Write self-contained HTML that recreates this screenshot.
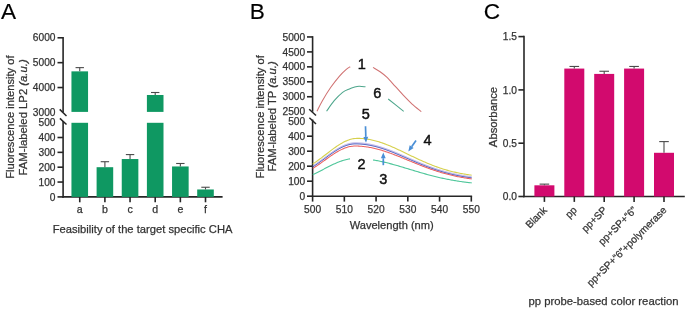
<!DOCTYPE html>
<html><head><meta charset="utf-8"><style>
html,body{margin:0;padding:0;background:#fff;width:685px;height:309px;overflow:hidden;}
svg{display:block;will-change:transform;}
text{font-family:"Liberation Sans",sans-serif;fill:#333;stroke:#333;stroke-width:0.25px;}
</style></head><body>
<svg width="685" height="309" viewBox="0 0 685 309">
<text x="1.00" y="18.70" font-size="22.6" text-anchor="start" style="fill:#000;stroke:#000;stroke-width:0.15">A</text>
<line x1="63.10" y1="36.99" x2="63.10" y2="112.20" stroke="#262626" stroke-width="1.6"/>
<line x1="63.10" y1="121.00" x2="63.10" y2="197.70" stroke="#262626" stroke-width="1.6"/>
<line x1="57.50" y1="37.79" x2="63.10" y2="37.79" stroke="#262626" stroke-width="1.6"/>
<text x="55.50" y="41.39" font-size="10.2" text-anchor="end" >6000</text>
<line x1="57.50" y1="62.66" x2="63.10" y2="62.66" stroke="#262626" stroke-width="1.6"/>
<text x="55.50" y="66.26" font-size="10.2" text-anchor="end" >5000</text>
<line x1="57.50" y1="87.53" x2="63.10" y2="87.53" stroke="#262626" stroke-width="1.6"/>
<text x="55.50" y="91.13" font-size="10.2" text-anchor="end" >4000</text>
<line x1="57.50" y1="137.50" x2="63.10" y2="137.50" stroke="#262626" stroke-width="1.6"/>
<text x="55.50" y="141.10" font-size="10.2" text-anchor="end" >400</text>
<line x1="57.50" y1="152.35" x2="63.10" y2="152.35" stroke="#262626" stroke-width="1.6"/>
<text x="55.50" y="155.95" font-size="10.2" text-anchor="end" >300</text>
<line x1="57.50" y1="167.20" x2="63.10" y2="167.20" stroke="#262626" stroke-width="1.6"/>
<text x="55.50" y="170.80" font-size="10.2" text-anchor="end" >200</text>
<line x1="57.50" y1="182.05" x2="63.10" y2="182.05" stroke="#262626" stroke-width="1.6"/>
<text x="55.50" y="185.65" font-size="10.2" text-anchor="end" >100</text>
<line x1="57.50" y1="196.90" x2="63.10" y2="196.90" stroke="#262626" stroke-width="1.6"/>
<text x="55.50" y="200.50" font-size="10.2" text-anchor="end" >0</text>
<text x="55.50" y="116.00" font-size="10.2" text-anchor="end" >3000</text>
<text x="55.50" y="126.25" font-size="10.2" text-anchor="end" >500</text>
<line x1="59.70" y1="109.40" x2="66.50" y2="116.00" stroke="#262626" stroke-width="1.5"/>
<line x1="59.90" y1="118.40" x2="66.50" y2="124.50" stroke="#262626" stroke-width="1.5"/>
<line x1="62.30" y1="196.90" x2="222.60" y2="196.90" stroke="#262626" stroke-width="1.6"/>
<line x1="79.75" y1="196.90" x2="79.75" y2="202.30" stroke="#262626" stroke-width="1.6"/>
<text x="79.75" y="213.20" font-size="10.6" text-anchor="middle" >a</text>
<rect x="71.45" y="122.80" width="16.60" height="74.10" fill="#0f9862"/>
<rect x="71.45" y="71.36" width="16.60" height="40.54" fill="#0f9862"/>
<line x1="79.75" y1="67.63" x2="79.75" y2="71.36" stroke="#4a4a4a" stroke-width="1.1"/>
<line x1="75.55" y1="67.63" x2="83.95" y2="67.63" stroke="#4a4a4a" stroke-width="1.1"/>
<line x1="104.90" y1="196.90" x2="104.90" y2="202.30" stroke="#262626" stroke-width="1.6"/>
<text x="104.90" y="213.20" font-size="10.6" text-anchor="middle" >b</text>
<rect x="96.60" y="167.20" width="16.60" height="29.70" fill="#0f9862"/>
<line x1="104.90" y1="161.71" x2="104.90" y2="167.20" stroke="#4a4a4a" stroke-width="1.1"/>
<line x1="100.70" y1="161.71" x2="109.10" y2="161.71" stroke="#4a4a4a" stroke-width="1.1"/>
<line x1="130.05" y1="196.90" x2="130.05" y2="202.30" stroke="#262626" stroke-width="1.6"/>
<text x="130.05" y="213.20" font-size="10.6" text-anchor="middle" >c</text>
<rect x="121.75" y="159.03" width="16.60" height="37.87" fill="#0f9862"/>
<line x1="130.05" y1="154.58" x2="130.05" y2="159.03" stroke="#4a4a4a" stroke-width="1.1"/>
<line x1="125.85" y1="154.58" x2="134.25" y2="154.58" stroke="#4a4a4a" stroke-width="1.1"/>
<line x1="155.20" y1="196.90" x2="155.20" y2="202.30" stroke="#262626" stroke-width="1.6"/>
<text x="155.20" y="213.20" font-size="10.6" text-anchor="middle" >d</text>
<rect x="146.90" y="122.80" width="16.60" height="74.10" fill="#0f9862"/>
<rect x="146.90" y="94.99" width="16.60" height="16.91" fill="#0f9862"/>
<line x1="155.20" y1="92.50" x2="155.20" y2="94.99" stroke="#4a4a4a" stroke-width="1.1"/>
<line x1="151.00" y1="92.50" x2="159.40" y2="92.50" stroke="#4a4a4a" stroke-width="1.1"/>
<line x1="180.35" y1="196.90" x2="180.35" y2="202.30" stroke="#262626" stroke-width="1.6"/>
<text x="180.35" y="213.20" font-size="10.6" text-anchor="middle" >e</text>
<rect x="172.05" y="166.46" width="16.60" height="30.44" fill="#0f9862"/>
<line x1="180.35" y1="163.49" x2="180.35" y2="166.46" stroke="#4a4a4a" stroke-width="1.1"/>
<line x1="176.15" y1="163.49" x2="184.55" y2="163.49" stroke="#4a4a4a" stroke-width="1.1"/>
<line x1="205.50" y1="196.90" x2="205.50" y2="202.30" stroke="#262626" stroke-width="1.6"/>
<text x="205.50" y="213.20" font-size="10.6" text-anchor="middle" >f</text>
<rect x="197.20" y="189.47" width="16.60" height="7.43" fill="#0f9862"/>
<line x1="205.50" y1="187.25" x2="205.50" y2="189.47" stroke="#4a4a4a" stroke-width="1.1"/>
<line x1="201.30" y1="187.25" x2="209.70" y2="187.25" stroke="#4a4a4a" stroke-width="1.1"/>
<text x="142.60" y="233.40" font-size="11.2" text-anchor="middle" >Feasibility of the target specific CHA</text>
<g transform="translate(14.2,117.1) rotate(-90)"><text x="0" y="0" font-size="11.15" text-anchor="middle">Fluorescence intensity of</text></g>
<g transform="translate(26.8,117.4) rotate(-90)"><text x="0" y="0" font-size="11.3" text-anchor="middle">FAM-labeled LP2 <tspan font-style="italic">(a.u.)</tspan></text></g>
<text x="249.70" y="18.80" font-size="22.6" text-anchor="start" style="fill:#000;stroke:#000;stroke-width:0.15">B</text>
<line x1="312.60" y1="36.15" x2="312.60" y2="111.70" stroke="#262626" stroke-width="1.6"/>
<line x1="312.60" y1="119.50" x2="312.60" y2="197.00" stroke="#262626" stroke-width="1.6"/>
<line x1="307.00" y1="36.95" x2="312.60" y2="36.95" stroke="#262626" stroke-width="1.6"/>
<text x="305.20" y="40.55" font-size="10.2" text-anchor="end" >5000</text>
<line x1="307.00" y1="51.90" x2="312.60" y2="51.90" stroke="#262626" stroke-width="1.6"/>
<text x="305.20" y="55.50" font-size="10.2" text-anchor="end" >4500</text>
<line x1="307.00" y1="66.85" x2="312.60" y2="66.85" stroke="#262626" stroke-width="1.6"/>
<text x="305.20" y="70.45" font-size="10.2" text-anchor="end" >4000</text>
<line x1="307.00" y1="81.80" x2="312.60" y2="81.80" stroke="#262626" stroke-width="1.6"/>
<text x="305.20" y="85.40" font-size="10.2" text-anchor="end" >3500</text>
<line x1="307.00" y1="96.75" x2="312.60" y2="96.75" stroke="#262626" stroke-width="1.6"/>
<text x="305.20" y="100.35" font-size="10.2" text-anchor="end" >3000</text>
<text x="305.20" y="115.30" font-size="10.2" text-anchor="end" >2500</text>
<line x1="307.00" y1="136.20" x2="312.60" y2="136.20" stroke="#262626" stroke-width="1.6"/>
<text x="305.20" y="139.80" font-size="10.2" text-anchor="end" >400</text>
<line x1="307.00" y1="151.20" x2="312.60" y2="151.20" stroke="#262626" stroke-width="1.6"/>
<text x="305.20" y="154.80" font-size="10.2" text-anchor="end" >300</text>
<line x1="307.00" y1="166.20" x2="312.60" y2="166.20" stroke="#262626" stroke-width="1.6"/>
<text x="305.20" y="169.80" font-size="10.2" text-anchor="end" >200</text>
<line x1="307.00" y1="181.20" x2="312.60" y2="181.20" stroke="#262626" stroke-width="1.6"/>
<text x="305.20" y="184.80" font-size="10.2" text-anchor="end" >100</text>
<line x1="307.00" y1="196.20" x2="312.60" y2="196.20" stroke="#262626" stroke-width="1.6"/>
<text x="305.20" y="199.80" font-size="10.2" text-anchor="end" >0</text>
<text x="305.20" y="124.80" font-size="10.2" text-anchor="end" >500</text>
<line x1="309.20" y1="109.20" x2="316.00" y2="115.50" stroke="#262626" stroke-width="1.5"/>
<line x1="309.40" y1="117.70" x2="316.00" y2="124.00" stroke="#262626" stroke-width="1.5"/>
<line x1="311.80" y1="196.20" x2="472.10" y2="196.20" stroke="#262626" stroke-width="1.6"/>
<line x1="312.60" y1="196.20" x2="312.60" y2="201.60" stroke="#262626" stroke-width="1.6"/>
<text x="312.60" y="212.90" font-size="10.2" text-anchor="middle" >500</text>
<line x1="344.34" y1="196.20" x2="344.34" y2="201.60" stroke="#262626" stroke-width="1.6"/>
<text x="344.34" y="212.90" font-size="10.2" text-anchor="middle" >510</text>
<line x1="376.08" y1="196.20" x2="376.08" y2="201.60" stroke="#262626" stroke-width="1.6"/>
<text x="376.08" y="212.90" font-size="10.2" text-anchor="middle" >520</text>
<line x1="407.82" y1="196.20" x2="407.82" y2="201.60" stroke="#262626" stroke-width="1.6"/>
<text x="407.82" y="212.90" font-size="10.2" text-anchor="middle" >530</text>
<line x1="439.56" y1="196.20" x2="439.56" y2="201.60" stroke="#262626" stroke-width="1.6"/>
<text x="439.56" y="212.90" font-size="10.2" text-anchor="middle" >540</text>
<line x1="471.30" y1="196.20" x2="471.30" y2="201.60" stroke="#262626" stroke-width="1.6"/>
<text x="471.30" y="212.90" font-size="10.2" text-anchor="middle" >550</text>
<text x="391.70" y="229.40" font-size="11.1" text-anchor="middle" >Wavelength (nm)</text>
<g transform="translate(263.7,116.8) rotate(-90)"><text x="0" y="0" font-size="11.15" text-anchor="middle">Fluorescence intensity of</text></g>
<g transform="translate(276.3,116.4) rotate(-90)"><text x="0" y="0" font-size="11.3" text-anchor="middle">FAM-labeled TP <tspan font-style="italic">(a.u.)</tspan></text></g>
<path d="M312.80,163.96 L313.80,163.30 L314.80,162.62 L315.80,161.94 L316.80,161.24 L317.80,160.52 L318.80,159.80 L319.80,159.06 L320.80,158.32 L321.80,157.57 L322.80,156.81 L323.80,156.04 L324.80,155.27 L325.80,154.50 L326.80,153.73 L327.80,152.96 L328.80,152.19 L329.80,151.42 L330.80,150.66 L331.80,149.91 L332.80,149.16 L333.80,148.43 L334.80,147.71 L335.80,147.00 L336.80,146.31 L337.80,145.64 L338.80,144.99 L339.80,144.36 L340.80,143.75 L341.80,143.17 L342.80,142.61 L343.80,142.09 L344.80,141.59 L345.80,141.12 L346.80,140.69 L347.80,140.29 L348.80,139.92 L349.80,139.59 L350.80,139.30 L351.80,139.05 L352.80,138.83 L353.80,138.66 L354.80,138.52 L355.80,138.43 L356.80,138.37 L357.80,138.36 L358.80,138.37 L359.80,138.40 L360.80,138.44 L361.80,138.50 L362.80,138.57 L363.80,138.66 L364.80,138.77 L365.80,138.89 L366.80,139.03 L367.80,139.18 L368.80,139.35 L369.80,139.53 L370.80,139.73 L371.80,139.94 L372.80,140.17 L373.80,140.41 L374.80,140.66 L375.80,140.93 L376.80,141.21 L377.80,141.50 L378.80,141.80 L379.80,142.12 L380.80,142.45 L381.80,142.79 L382.80,143.14 L383.80,143.50 L384.80,143.87 L385.80,144.25 L386.80,144.64 L387.80,145.04 L388.80,145.45 L389.80,145.86 L390.80,146.28 L391.80,146.71 L392.80,147.15 L393.80,147.59 L394.80,148.04 L395.80,148.50 L396.80,148.95 L397.80,149.42 L398.80,149.89 L399.80,150.36 L400.80,150.83 L401.80,151.31 L402.80,151.79 L403.80,152.27 L404.80,152.75 L405.80,153.23 L406.80,153.72 L407.80,154.20 L408.80,154.69 L409.80,155.17 L410.80,155.65 L411.80,156.13 L412.80,156.61 L413.80,157.09 L414.80,157.56 L415.80,158.04 L416.80,158.51 L417.80,158.97 L418.80,159.43 L419.80,159.89 L420.80,160.35 L421.80,160.80 L422.80,161.24 L423.80,161.68 L424.80,162.12 L425.80,162.55 L426.80,162.97 L427.80,163.39 L428.80,163.81 L429.80,164.21 L430.80,164.61 L431.80,165.01 L432.80,165.39 L433.80,165.78 L434.80,166.15 L435.80,166.52 L436.80,166.88 L437.80,167.23 L438.80,167.58 L439.80,167.92 L440.80,168.25 L441.80,168.58 L442.80,168.90 L443.80,169.21 L444.80,169.51 L445.80,169.81 L446.80,170.10 L447.80,170.38 L448.80,170.66 L449.80,170.92 L450.80,171.19 L451.80,171.44 L452.80,171.69 L453.80,171.93 L454.80,172.16 L455.80,172.39 L456.80,172.61 L457.80,172.82 L458.80,173.03 L459.80,173.23 L460.80,173.43 L461.80,173.62 L462.80,173.80 L463.80,173.98 L464.80,174.15 L465.80,174.31 L466.80,174.47 L467.80,174.63 L468.80,174.78 L469.80,174.92 L470.80,175.06 L471.70,175.18" fill="none" stroke="#d6d04c" stroke-width="1.1" stroke-linejoin="round"/>
<path d="M312.80,165.82 L313.80,165.18 L314.80,164.52 L315.80,163.85 L316.80,163.16 L317.80,162.47 L318.80,161.77 L319.80,161.06 L320.80,160.34 L321.80,159.61 L322.80,158.88 L323.80,158.15 L324.80,157.42 L325.80,156.68 L326.80,155.95 L327.80,155.22 L328.80,154.49 L329.80,153.77 L330.80,153.06 L331.80,152.36 L332.80,151.67 L333.80,151.00 L334.80,150.34 L335.80,149.69 L336.80,149.07 L337.80,148.47 L338.80,147.89 L339.80,147.33 L340.80,146.80 L341.80,146.29 L342.80,145.82 L343.80,145.37 L344.80,144.96 L345.80,144.58 L346.80,144.23 L347.80,143.92 L348.80,143.64 L349.80,143.41 L350.80,143.20 L351.80,143.04 L352.80,142.92 L353.80,142.83 L354.80,142.79 L355.80,142.78 L356.80,142.79 L357.80,142.82 L358.80,142.86 L359.80,142.91 L360.80,142.98 L361.80,143.06 L362.80,143.15 L363.80,143.26 L364.80,143.38 L365.80,143.51 L366.80,143.66 L367.80,143.82 L368.80,143.99 L369.80,144.17 L370.80,144.37 L371.80,144.58 L372.80,144.80 L373.80,145.03 L374.80,145.27 L375.80,145.53 L376.80,145.79 L377.80,146.07 L378.80,146.35 L379.80,146.65 L380.80,146.95 L381.80,147.27 L382.80,147.59 L383.80,147.92 L384.80,148.26 L385.80,148.61 L386.80,148.97 L387.80,149.33 L388.80,149.70 L389.80,150.08 L390.80,150.46 L391.80,150.85 L392.80,151.24 L393.80,151.64 L394.80,152.05 L395.80,152.46 L396.80,152.87 L397.80,153.28 L398.80,153.70 L399.80,154.13 L400.80,154.55 L401.80,154.98 L402.80,155.41 L403.80,155.84 L404.80,156.27 L405.80,156.70 L406.80,157.13 L407.80,157.56 L408.80,158.00 L409.80,158.43 L410.80,158.86 L411.80,159.29 L412.80,159.72 L413.80,160.15 L414.80,160.57 L415.80,161.00 L416.80,161.42 L417.80,161.83 L418.80,162.25 L419.80,162.66 L420.80,163.07 L421.80,163.47 L422.80,163.87 L423.80,164.27 L424.80,164.66 L425.80,165.05 L426.80,165.43 L427.80,165.81 L428.80,166.18 L429.80,166.55 L430.80,166.91 L431.80,167.27 L432.80,167.62 L433.80,167.97 L434.80,168.31 L435.80,168.65 L436.80,168.98 L437.80,169.30 L438.80,169.62 L439.80,169.93 L440.80,170.24 L441.80,170.53 L442.80,170.83 L443.80,171.12 L444.80,171.40 L445.80,171.67 L446.80,171.94 L447.80,172.20 L448.80,172.46 L449.80,172.71 L450.80,172.95 L451.80,173.19 L452.80,173.43 L453.80,173.65 L454.80,173.87 L455.80,174.09 L456.80,174.30 L457.80,174.50 L458.80,174.70 L459.80,174.89 L460.80,175.07 L461.80,175.26 L462.80,175.43 L463.80,175.60 L464.80,175.77 L465.80,175.93 L466.80,176.08 L467.80,176.23 L468.80,176.37 L469.80,176.52 L470.80,176.65 L471.70,176.77" fill="none" stroke="#a49ade" stroke-width="0.75" stroke-linejoin="round"/>
<path d="M312.80,166.92 L313.80,166.28 L314.80,165.62 L315.80,164.95 L316.80,164.26 L317.80,163.57 L318.80,162.87 L319.80,162.16 L320.80,161.44 L321.80,160.71 L322.80,159.98 L323.80,159.25 L324.80,158.52 L325.80,157.78 L326.80,157.05 L327.80,156.32 L328.80,155.59 L329.80,154.87 L330.80,154.16 L331.80,153.46 L332.80,152.77 L333.80,152.10 L334.80,151.44 L335.80,150.79 L336.80,150.17 L337.80,149.57 L338.80,148.99 L339.80,148.43 L340.80,147.90 L341.80,147.39 L342.80,146.92 L343.80,146.47 L344.80,146.06 L345.80,145.68 L346.80,145.33 L347.80,145.02 L348.80,144.74 L349.80,144.51 L350.80,144.30 L351.80,144.14 L352.80,144.02 L353.80,143.93 L354.80,143.89 L355.80,143.88 L356.80,143.89 L357.80,143.92 L358.80,143.96 L359.80,144.01 L360.80,144.08 L361.80,144.16 L362.80,144.25 L363.80,144.36 L364.80,144.48 L365.80,144.61 L366.80,144.76 L367.80,144.92 L368.80,145.09 L369.80,145.27 L370.80,145.47 L371.80,145.68 L372.80,145.90 L373.80,146.13 L374.80,146.37 L375.80,146.63 L376.80,146.89 L377.80,147.17 L378.80,147.45 L379.80,147.75 L380.80,148.05 L381.80,148.37 L382.80,148.69 L383.80,149.02 L384.80,149.36 L385.80,149.71 L386.80,150.07 L387.80,150.43 L388.80,150.80 L389.80,151.18 L390.80,151.56 L391.80,151.95 L392.80,152.34 L393.80,152.74 L394.80,153.15 L395.80,153.56 L396.80,153.97 L397.80,154.38 L398.80,154.80 L399.80,155.23 L400.80,155.65 L401.80,156.08 L402.80,156.51 L403.80,156.94 L404.80,157.37 L405.80,157.80 L406.80,158.23 L407.80,158.66 L408.80,159.10 L409.80,159.53 L410.80,159.96 L411.80,160.39 L412.80,160.82 L413.80,161.25 L414.80,161.67 L415.80,162.10 L416.80,162.52 L417.80,162.93 L418.80,163.35 L419.80,163.76 L420.80,164.17 L421.80,164.57 L422.80,164.97 L423.80,165.37 L424.80,165.76 L425.80,166.15 L426.80,166.53 L427.80,166.91 L428.80,167.28 L429.80,167.65 L430.80,168.01 L431.80,168.37 L432.80,168.72 L433.80,169.07 L434.80,169.41 L435.80,169.75 L436.80,170.08 L437.80,170.40 L438.80,170.72 L439.80,171.03 L440.80,171.34 L441.80,171.63 L442.80,171.93 L443.80,172.22 L444.80,172.50 L445.80,172.77 L446.80,173.04 L447.80,173.30 L448.80,173.56 L449.80,173.81 L450.80,174.05 L451.80,174.29 L452.80,174.53 L453.80,174.75 L454.80,174.97 L455.80,175.19 L456.80,175.40 L457.80,175.60 L458.80,175.80 L459.80,175.99 L460.80,176.17 L461.80,176.36 L462.80,176.53 L463.80,176.70 L464.80,176.87 L465.80,177.03 L466.80,177.18 L467.80,177.33 L468.80,177.47 L469.80,177.62 L470.80,177.75 L471.70,177.87" fill="none" stroke="#3a4cb8" stroke-width="1.0" stroke-linejoin="round"/>
<path d="M312.80,168.45 L313.80,167.82 L314.80,167.17 L315.80,166.51 L316.80,165.84 L317.80,165.16 L318.80,164.47 L319.80,163.77 L320.80,163.07 L321.80,162.35 L322.80,161.64 L323.80,160.92 L324.80,160.20 L325.80,159.48 L326.80,158.76 L327.80,158.05 L328.80,157.34 L329.80,156.64 L330.80,155.94 L331.80,155.26 L332.80,154.58 L333.80,153.93 L334.80,153.28 L335.80,152.66 L336.80,152.05 L337.80,151.46 L338.80,150.90 L339.80,150.36 L340.80,149.85 L341.80,149.36 L342.80,148.90 L343.80,148.47 L344.80,148.07 L345.80,147.71 L346.80,147.38 L347.80,147.08 L348.80,146.82 L349.80,146.60 L350.80,146.41 L351.80,146.27 L352.80,146.16 L353.80,146.08 L354.80,146.05 L355.80,146.05 L356.80,146.07 L357.80,146.10 L358.80,146.14 L359.80,146.19 L360.80,146.26 L361.80,146.34 L362.80,146.43 L363.80,146.53 L364.80,146.65 L365.80,146.78 L366.80,146.92 L367.80,147.07 L368.80,147.23 L369.80,147.41 L370.80,147.60 L371.80,147.80 L372.80,148.01 L373.80,148.23 L374.80,148.46 L375.80,148.70 L376.80,148.95 L377.80,149.21 L378.80,149.48 L379.80,149.76 L380.80,150.05 L381.80,150.35 L382.80,150.66 L383.80,150.97 L384.80,151.30 L385.80,151.63 L386.80,151.96 L387.80,152.31 L388.80,152.66 L389.80,153.02 L390.80,153.38 L391.80,153.75 L392.80,154.12 L393.80,154.50 L394.80,154.89 L395.80,155.27 L396.80,155.67 L397.80,156.06 L398.80,156.46 L399.80,156.86 L400.80,157.27 L401.80,157.67 L402.80,158.08 L403.80,158.49 L404.80,158.90 L405.80,159.31 L406.80,159.73 L407.80,160.14 L408.80,160.55 L409.80,160.97 L410.80,161.38 L411.80,161.79 L412.80,162.20 L413.80,162.61 L414.80,163.02 L415.80,163.43 L416.80,163.83 L417.80,164.23 L418.80,164.63 L419.80,165.03 L420.80,165.42 L421.80,165.81 L422.80,166.20 L423.80,166.58 L424.80,166.96 L425.80,167.34 L426.80,167.71 L427.80,168.08 L428.80,168.44 L429.80,168.80 L430.80,169.15 L431.80,169.50 L432.80,169.84 L433.80,170.18 L434.80,170.51 L435.80,170.84 L436.80,171.16 L437.80,171.48 L438.80,171.79 L439.80,172.10 L440.80,172.40 L441.80,172.69 L442.80,172.98 L443.80,173.27 L444.80,173.54 L445.80,173.82 L446.80,174.08 L447.80,174.34 L448.80,174.60 L449.80,174.85 L450.80,175.09 L451.80,175.33 L452.80,175.56 L453.80,175.79 L454.80,176.01 L455.80,176.22 L456.80,176.43 L457.80,176.64 L458.80,176.84 L459.80,177.03 L460.80,177.22 L461.80,177.40 L462.80,177.58 L463.80,177.75 L464.80,177.92 L465.80,178.08 L466.80,178.24 L467.80,178.39 L468.80,178.54 L469.80,178.69 L470.80,178.82 L471.70,178.95" fill="none" stroke="#ea5f5f" stroke-width="1.05" stroke-linejoin="round"/>
<path d="M312.80,174.64 L313.80,174.17 L314.80,173.69 L315.80,173.21 L316.80,172.72 L317.80,172.22 L318.80,171.71 L319.80,171.20 L320.80,170.68 L321.80,170.17 L322.80,169.65 L323.80,169.13 L324.80,168.61 L325.80,168.09 L326.80,167.57 L327.80,167.06 L328.80,166.55 L329.80,166.04 L330.80,165.54 L331.80,165.05 L332.80,164.57 L333.80,164.10 L334.80,163.64 L335.80,163.20 L336.80,162.77 L337.80,162.35 L338.80,161.95 L339.80,161.57 L340.80,161.20 L341.80,160.86 L342.80,160.53 L343.80,160.23 L344.80,159.95 L345.80,159.69 L346.80,159.45 L347.80,159.24 L348.80,159.06 L349.80,158.90 L350.00,158.87" fill="none" stroke="#4ec69a" stroke-width="1.1" stroke-linejoin="round"/>
<path d="M373.00,159.94 L374.00,160.10 L375.00,160.27 L376.00,160.44 L377.00,160.63 L378.00,160.82 L379.00,161.02 L380.00,161.22 L381.00,161.43 L382.00,161.65 L383.00,161.88 L384.00,162.11 L385.00,162.34 L386.00,162.58 L387.00,162.83 L388.00,163.08 L389.00,163.34 L390.00,163.60 L391.00,163.87 L392.00,164.14 L393.00,164.41 L394.00,164.69 L395.00,164.97 L396.00,165.25 L397.00,165.54 L398.00,165.83 L399.00,166.12 L400.00,166.42 L401.00,166.71 L402.00,167.01 L403.00,167.31 L404.00,167.61 L405.00,167.91 L406.00,168.22 L407.00,168.52 L408.00,168.83 L409.00,169.13 L410.00,169.43 L411.00,169.74 L412.00,170.04 L413.00,170.34 L414.00,170.65 L415.00,170.95 L416.00,171.25 L417.00,171.55 L418.00,171.84 L419.00,172.14 L420.00,172.43 L421.00,172.72 L422.00,173.01 L423.00,173.30 L424.00,173.58 L425.00,173.86 L426.00,174.14 L427.00,174.42 L428.00,174.69 L429.00,174.96 L430.00,175.23 L431.00,175.49 L432.00,175.75 L433.00,176.01 L434.00,176.26 L435.00,176.51 L436.00,176.75 L437.00,177.00 L438.00,177.23 L439.00,177.47 L440.00,177.70 L441.00,177.92 L442.00,178.14 L443.00,178.36 L444.00,178.57 L445.00,178.78 L446.00,178.99 L447.00,179.19 L448.00,179.39 L449.00,179.58 L450.00,179.77 L451.00,179.95 L452.00,180.13 L453.00,180.31 L454.00,180.48 L455.00,180.65 L456.00,180.81 L457.00,180.97 L458.00,181.13 L459.00,181.28 L460.00,181.43 L461.00,181.57 L462.00,181.71 L463.00,181.84 L464.00,181.98 L465.00,182.11 L466.00,182.23 L467.00,182.35 L468.00,182.47 L469.00,182.58 L470.00,182.69 L471.00,182.80 L471.70,182.87" fill="none" stroke="#4ec69a" stroke-width="1.1" stroke-linejoin="round"/>
<path d="M317.00,111.20 C317.90,109.45 320.10,104.68 322.40,100.70 C324.70,96.72 327.98,91.37 330.80,87.30 C333.62,83.23 336.77,79.25 339.30,76.30 C341.83,73.35 344.18,71.20 346.00,69.60 C347.82,68.00 349.50,67.18 350.20,66.70" fill="none" stroke="#d07272" stroke-width="1.05"/>
<path d="M373.00,67.40 C374.18,68.13 377.80,70.17 380.10,71.80 C382.40,73.43 384.27,74.77 386.80,77.20 C389.33,79.63 392.48,83.32 395.30,86.40 C398.12,89.48 400.90,92.75 403.70,95.70 C406.50,98.65 409.17,101.43 412.10,104.10 C415.03,106.77 419.77,110.43 421.30,111.70" fill="none" stroke="#d07272" stroke-width="1.05"/>
<path d="M326.60,111.20 C327.87,109.45 331.53,103.85 334.20,100.70 C336.87,97.55 340.07,94.27 342.60,92.30 C345.13,90.33 347.50,89.73 349.40,88.90 C351.30,88.07 352.40,87.73 354.00,87.30 C355.60,86.87 357.08,86.38 359.00,86.30 C360.92,86.22 364.42,86.72 365.50,86.80" fill="none" stroke="#4ea68c" stroke-width="1.05"/>
<path d="M388.20,99.00 C390.78,101.05 401.12,109.25 403.70,111.30" fill="none" stroke="#4ea68c" stroke-width="1.05"/>
<text x="361.70" y="69.40" font-size="14.5" text-anchor="middle" style="fill:#111;stroke:#111;stroke-width:0.45">1</text>
<text x="377.30" y="98.20" font-size="14.5" text-anchor="middle" style="fill:#111;stroke:#111;stroke-width:0.45">6</text>
<text x="365.70" y="119.20" font-size="14.5" text-anchor="middle" style="fill:#111;stroke:#111;stroke-width:0.45">5</text>
<text x="427.60" y="145.10" font-size="14.5" text-anchor="middle" style="fill:#111;stroke:#111;stroke-width:0.45">4</text>
<text x="361.60" y="168.50" font-size="14.5" text-anchor="middle" style="fill:#111;stroke:#111;stroke-width:0.45">2</text>
<text x="383.40" y="184.00" font-size="14.5" text-anchor="middle" style="fill:#111;stroke:#111;stroke-width:0.45">3</text>
<line x1="365.5" y1="126.3" x2="365.82" y2="136.90" stroke="#4a8fd6" stroke-width="1.7"/>
<polygon points="366.00,142.70 363.42,136.98 368.22,136.83" fill="#4a8fd6"/>
<line x1="416.0" y1="140.5" x2="411.65" y2="146.66" stroke="#4a8fd6" stroke-width="1.7"/>
<polygon points="408.30,151.40 409.69,145.28 413.61,148.05" fill="#4a8fd6"/>
<line x1="383.3" y1="165.2" x2="383.30" y2="158.20" stroke="#4a8fd6" stroke-width="1.7"/>
<polygon points="383.30,152.40 385.70,158.20 380.90,158.20" fill="#4a8fd6"/>
<text x="483.70" y="18.70" font-size="22.6" text-anchor="start" style="fill:#000;stroke:#000;stroke-width:0.15">C</text>
<line x1="524.00" y1="35.80" x2="524.00" y2="197.30" stroke="#262626" stroke-width="1.6"/>
<line x1="518.40" y1="36.60" x2="524.00" y2="36.60" stroke="#262626" stroke-width="1.6"/>
<text x="517.00" y="40.20" font-size="10.2" text-anchor="end" >1.5</text>
<line x1="518.40" y1="89.90" x2="524.00" y2="89.90" stroke="#262626" stroke-width="1.6"/>
<text x="517.00" y="93.50" font-size="10.2" text-anchor="end" >1.0</text>
<line x1="518.40" y1="143.20" x2="524.00" y2="143.20" stroke="#262626" stroke-width="1.6"/>
<text x="517.00" y="146.80" font-size="10.2" text-anchor="end" >0.5</text>
<line x1="518.40" y1="196.50" x2="524.00" y2="196.50" stroke="#262626" stroke-width="1.6"/>
<text x="517.00" y="200.10" font-size="10.2" text-anchor="end" >0.0</text>
<line x1="523.20" y1="196.50" x2="684.80" y2="196.50" stroke="#262626" stroke-width="1.6"/>
<rect x="534.40" y="185.31" width="20.00" height="11.19" fill="#d20a6e"/>
<line x1="544.40" y1="184.13" x2="544.40" y2="185.31" stroke="#4a4a4a" stroke-width="1.1"/>
<line x1="539.60" y1="184.13" x2="549.20" y2="184.13" stroke="#4a4a4a" stroke-width="1.1"/>
<line x1="544.40" y1="196.50" x2="544.40" y2="201.90" stroke="#262626" stroke-width="1.6"/>
<g transform="translate(547.70,210.80) rotate(-45)"><text x="0" y="0" font-size="10.2" text-anchor="end">Blank</text></g>
<rect x="564.30" y="68.58" width="20.00" height="127.92" fill="#d20a6e"/>
<line x1="574.30" y1="66.45" x2="574.30" y2="68.58" stroke="#4a4a4a" stroke-width="1.1"/>
<line x1="569.50" y1="66.45" x2="579.10" y2="66.45" stroke="#4a4a4a" stroke-width="1.1"/>
<line x1="574.30" y1="196.50" x2="574.30" y2="201.90" stroke="#262626" stroke-width="1.6"/>
<g transform="translate(577.60,210.80) rotate(-45)"><text x="0" y="0" font-size="10.2" text-anchor="end">pp</text></g>
<rect x="594.20" y="73.91" width="20.00" height="122.59" fill="#d20a6e"/>
<line x1="604.20" y1="71.25" x2="604.20" y2="73.91" stroke="#4a4a4a" stroke-width="1.1"/>
<line x1="599.40" y1="71.25" x2="609.00" y2="71.25" stroke="#4a4a4a" stroke-width="1.1"/>
<line x1="604.20" y1="196.50" x2="604.20" y2="201.90" stroke="#262626" stroke-width="1.6"/>
<g transform="translate(607.50,210.80) rotate(-45)"><text x="0" y="0" font-size="10.2" text-anchor="end">pp+SP</text></g>
<rect x="624.10" y="68.58" width="20.00" height="127.92" fill="#d20a6e"/>
<line x1="634.10" y1="66.45" x2="634.10" y2="68.58" stroke="#4a4a4a" stroke-width="1.1"/>
<line x1="629.30" y1="66.45" x2="638.90" y2="66.45" stroke="#4a4a4a" stroke-width="1.1"/>
<line x1="634.10" y1="196.50" x2="634.10" y2="201.90" stroke="#262626" stroke-width="1.6"/>
<g transform="translate(637.40,210.80) rotate(-45)"><text x="0" y="0" font-size="10.2" text-anchor="end">pp+SP+“6”</text></g>
<rect x="654.00" y="152.79" width="20.00" height="43.71" fill="#d20a6e"/>
<line x1="664.00" y1="141.60" x2="664.00" y2="152.79" stroke="#4a4a4a" stroke-width="1.1"/>
<line x1="659.20" y1="141.60" x2="668.80" y2="141.60" stroke="#4a4a4a" stroke-width="1.1"/>
<line x1="664.00" y1="196.50" x2="664.00" y2="201.90" stroke="#262626" stroke-width="1.6"/>
<g transform="translate(667.30,210.80) rotate(-45)"><text x="0" y="0" font-size="10.2" text-anchor="end">pp+SP+“6”+polymerase</text></g>
<g transform="translate(497,117) rotate(-90)"><text x="0" y="0" font-size="11.3" text-anchor="middle">Absorbance</text></g>
<text x="603.50" y="305.40" font-size="11.3" text-anchor="middle" >pp probe-based color reaction</text>
</svg>
</body></html>
